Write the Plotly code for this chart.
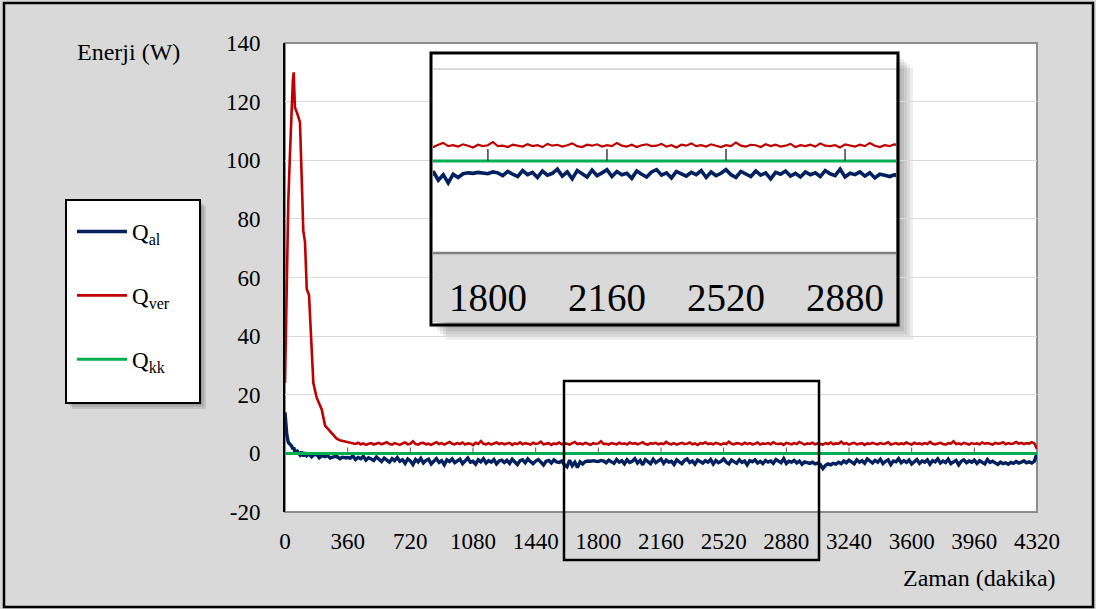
import plotly.graph_objects as go

# ---------------- data ----------------
time_early = [0, 5, 10, 19, 29, 38, 45, 50, 57, 70, 86, 96, 105, 115, 125, 138, 153, 163,
              182, 197, 211, 230, 245, 259, 278, 297, 315, 330, 345, 360]
q_ver_early = [24, 42, 58, 86, 103, 120, 127, 130, 118, 116, 113, 94, 76, 72, 56, 54, 34, 24,
               19, 17, 15, 9.5, 8.5, 7.5, 6, 5, 4.5, 4.3, 4.2, 4.0]
q_al_early = [14, 9, 6.5, 3.7, 3, 2.5, 1.5, 2, 0.5, 0.8, -0.5, 0.5, -1, 0.3, -0.8, -0.2, -1.2, -0.6,
              -0.3, -1.5, -0.8, -1.1, -0.7, -1.6, -1.2, -1.0, -1.8, -1.3, -1.5, -1.4]

time_rest = list(range(375, 4306, 15)) + [4320]
q_ver_rest = [
    3.8, 3.5, 3.2, 3.6, 3.1, 3.4, 2.9, 3.3, 3.5, 3.0, 3.2, 3.6, 3.1, 3.4, 3.8, 3.2, 3.0, 3.5, 3.3, 2.9,
    3.4, 3.7, 3.1, 3.3, 4.1, 3.2, 3.0, 3.5, 3.6, 3.1, 3.3, 2.9, 3.4, 3.8, 3.2, 3.5, 3.0, 3.4, 3.9, 3.3,
    3.1, 3.5, 3.2, 3.7, 3.0, 3.4, 3.3, 2.8, 3.6, 3.2, 4.2, 3.3, 3.1, 3.5, 3.0, 3.4, 3.7, 3.2, 3.5, 3.1,
    3.3, 3.6, 2.9, 3.4, 3.2, 3.8, 3.1, 3.5, 3.3, 3.0, 3.6, 3.2, 3.4, 4.0, 3.1, 3.3, 3.5, 2.9, 3.4, 3.2,
    3.7, 3.1, 3.4, 3.3, 3.0, 3.5, 3.9, 3.2, 3.4, 3.1, 3.6, 3.3, 2.9, 3.5, 3.2, 3.4, 4.1, 3.2, 3.3, 3.0,
    3.5, 3.3, 3.1, 3.6, 3.2, 3.4, 3.0, 3.7, 3.3, 3.5, 3.1, 3.4, 3.8, 3.2, 3.0, 3.5, 3.3, 3.6, 3.1, 3.4,
    3.2, 3.9, 3.3, 3.1, 3.5, 3.0, 3.4, 3.6, 3.2, 3.3, 3.7, 3.1, 3.4, 2.9, 3.5, 3.3, 3.8, 3.2, 3.4, 3.1,
    3.6, 3.3, 3.0, 3.4, 3.2, 4.0, 3.3, 3.1, 3.5, 3.4, 3.0, 3.6, 3.2, 3.5, 3.1, 3.3, 3.7, 3.0, 3.4, 3.2,
    3.5, 3.1, 3.8, 3.3, 3.2, 3.4, 2.9, 3.6, 3.3, 3.1, 3.5, 3.2, 3.9, 3.3, 3.0, 3.4, 3.2, 3.6, 3.1, 3.4,
    3.3, 3.0, 3.5, 3.2, 3.7, 3.1, 3.4, 3.3, 4.0, 3.2, 3.5, 3.0, 3.4, 3.6, 3.1, 3.3, 3.5, 2.9, 3.4, 3.2,
    3.6, 3.3, 3.1, 3.5, 3.2, 3.4, 3.8, 3.0, 3.3, 3.5, 3.1, 3.4, 3.2, 3.7, 3.3, 3.0, 3.6, 3.2, 3.4, 3.1,
    3.5, 3.2, 3.9, 3.3, 3.1, 3.4, 3.6, 3.2, 3.0, 3.5, 3.3, 4.1, 3.2, 3.4, 3.1, 3.6, 3.3, 3.0, 3.5, 3.2,
    3.4, 3.1, 3.7, 3.3, 3.5, 3.2, 3.0, 3.6, 3.3, 3.4, 3.8, 3.1, 3.5, 3.2, 3.4, 3.9, 3.3, 3.6, 3.2, 3.5,
    3.3, 3.8, 3.4, 1.5,
]
q_al_rest = [
    -1.6, -0.9, -2.1, -1.4, -1.8, -1.0, -2.3, -1.5, -1.9, -2.4, -1.2, -2.0, -2.8, -1.6, -2.2, -3.0, -1.8, -2.5, -1.4, -2.7,
    -2.2, -3.4, -1.9, -2.6, -3.8, -2.1, -2.9, -1.7, -3.3, -2.4, -2.0, -3.6, -2.7, -1.8, -3.1, -2.5, -3.9, -2.2, -2.8, -1.9,
    -3.2, -2.6, -2.0, -3.5, -2.4, -1.6, -3.0, -2.7, -3.7, -2.2, -2.9, -1.8, -3.3, -2.5, -3.0, -2.1, -3.6, -2.6, -2.3, -3.1,
    -2.4, -3.4, -2.0, -2.9, -3.8, -2.5, -2.2, -3.2, -1.9, -2.8, -3.5, -2.6, -2.1, -3.0, -4.0, -2.7, -2.4, -3.3, -2.2, -2.9,
    -3.1, -2.6, -3.9, -4.6, -2.3, -4.2, -3.0, -4.8, -2.9, -3.6, -2.8, -2.6, -2.7, -2.5, -2.6, -2.8, -2.4, -2.6, -3.2, -2.3,
    -2.9, -3.4, -2.1, -3.0, -2.5, -3.6, -2.2, -3.1, -2.7, -1.8, -3.3, -2.4, -3.9, -2.1, -2.8, -3.5, -2.0, -3.2, -2.6, -1.9,
    -3.4, -2.3, -3.0, -2.7, -3.8, -2.2, -2.9, -3.5, -2.4, -1.9, -3.1, -2.6, -3.7, -2.3, -2.8, -3.3, -2.5, -3.0, -2.1, -3.6,
    -2.4, -3.2, -2.7, -1.9, -3.0, -3.6, -2.3, -2.8, -3.4, -2.2, -3.1, -2.6, -3.9, -2.5, -2.9, -2.2, -3.3, -2.7, -3.5, -2.4,
    -3.0, -2.6, -3.4, -2.1, -2.8, -3.2, -1.8, -3.5, -2.7, -3.0, -2.4, -3.3, -2.6, -3.7, -2.9, -3.1, -3.4, -3.0, -3.6, -3.3,
    -3.8, -5.2, -4.1, -3.6, -3.9, -3.4, -3.7, -3.0, -3.5, -2.6, -3.2, -2.3, -2.9, -3.6, -2.2, -3.0, -2.5, -3.4, -1.9, -2.8,
    -3.3, -2.4, -3.0, -2.0, -3.5, -2.7, -2.2, -3.8, -2.6, -2.9, -1.8, -3.2, -2.5, -3.1, -2.3, -3.6, -2.8, -2.1, -3.4, -2.6,
    -3.0, -2.2, -3.7, -2.5, -2.9, -1.9, -3.3, -2.6, -3.1, -2.0, -3.5, -2.8, -2.4, -3.9, -2.7, -2.2, -3.2, -2.6, -3.0, -2.3,
    -3.4, -2.5, -2.9, -3.6, -2.1, -3.1, -2.7, -3.3, -3.8, -3.0, -3.5, -3.2, -3.7, -3.1, -3.4, -2.8, -3.3, -3.0, -2.6, -3.2,
    -2.9, -3.3, -2.7, 0.0,
]
time_kk = [0, 4320]
q_kk = [0, 0]

x_tick_vals = list(range(0, 4321, 360))
y_tick_vals = list(range(-20, 141, 20))
y_tick_text = [str(v) for v in y_tick_vals]
inset_tick_vals = [1800, 2160, 2520, 2880]
inset_x_range = [1634, 3034]
inset_y_range = [-35, 23]

n = min(len(time_rest), len(q_ver_rest), len(q_al_rest))
time_all = time_early + time_rest[:n]
q_ver_all = q_ver_early + q_ver_rest[:n]
q_al_all = q_al_early + q_al_rest[:n]

# ---------------- styling ----------------
FONT = "Times New Roman, Liberation Serif, Tinos, DejaVu Serif, serif"
C_AL, C_VER, C_KK = "#002060", "#c00000", "#00b050"
FIG_W, FIG_H = 1096, 609
L, T, PW, PH = 285, 43, 752, 469


def px(x):
    return (x - L) / PW


def py(y):
    return (T + PH - y) / PH


fig = go.Figure()

# main traces
fig.add_trace(go.Scatter(x=time_all, y=q_al_all, name="Q<sub>al</sub>", mode="lines",
                         line=dict(color=C_AL, width=3.4), legendgroup="a"))
fig.add_trace(go.Scatter(x=time_all, y=q_ver_all, name="Q<sub>ver</sub>", mode="lines",
                         line=dict(color=C_VER, width=2.6), legendgroup="b"))
fig.add_trace(go.Scatter(x=time_kk, y=q_kk, name="Q<sub>kk</sub>", mode="lines",
                         line=dict(color=C_KK, width=3), legendgroup="c"))

# inset traces (magnified view)
fig.add_trace(go.Scatter(x=time_kk, y=q_kk, mode="lines", showlegend=False,
                         line=dict(color=C_KK, width=3), xaxis="x2", yaxis="y2"))
fig.add_trace(go.Scatter(x=time_all, y=q_ver_all, mode="lines", showlegend=False,
                         line=dict(color=C_VER, width=2.2), xaxis="x2", yaxis="y2"))
fig.add_trace(go.Scatter(x=time_all, y=q_al_all, mode="lines", showlegend=False,
                         line=dict(color=C_AL, width=3.6), xaxis="x2", yaxis="y2"))

shapes = []
# outer black frame of the picture
shapes.append(dict(type="rect", xref="paper", yref="paper", x0=px(4), x1=px(1093), y0=py(607), y1=py(3),
                   line=dict(color="black", width=2.5), layer="above"))
# plot area border (gray)
shapes.append(dict(type="rect", xref="paper", yref="paper", x0=0, x1=1, y0=0, y1=1,
                   line=dict(color="#8c8c8c", width=2), layer="below"))
# legend shadow + box
for k in range(3):
    d = 2 + 2 * k
    shapes.append(dict(type="rect", xref="paper", yref="paper", x0=px(66 + d), x1=px(200 + d),
                       y0=py(403 + d), y1=py(200 + d), fillcolor="rgba(0,0,0,0.10)",
                       line=dict(width=0), layer="below"))
shapes.append(dict(type="rect", xref="paper", yref="paper", x0=px(66), x1=px(200), y0=py(403), y1=py(200),
                   fillcolor="white", line=dict(color="black", width=2), layer="below"))
# inset shadow
for k in range(5):
    d = 3 + 3 * k
    shapes.append(dict(type="rect", xref="paper", yref="paper", x0=px(431 + d), x1=px(898 + d),
                       y0=py(325 + d), y1=py(53 + d), fillcolor="rgba(0,0,0,0.07)",
                       line=dict(width=0), layer="below"))
# tick marks on the zero line (main)
for t in x_tick_vals[1:-1]:
    shapes.append(dict(type="line", xref="x", yref="y", x0=t, x1=t, y0=0, y1=2,
                       line=dict(color="#595959", width=1)))
# inset: gray axis band, bottom border, tick marks
shapes.append(dict(type="rect", xref="x2", yref="y2", x0=inset_x_range[0], x1=inset_x_range[1],
                   y0=inset_y_range[0], y1=-20, fillcolor="#d9d9d9", line=dict(width=0), layer="below"))
shapes.append(dict(type="line", xref="x2", yref="y2", x0=inset_x_range[0], x1=inset_x_range[1],
                   y0=-20, y1=-20, line=dict(color="#7f7f7f", width=2.5)))
for t in inset_tick_vals:
    shapes.append(dict(type="line", xref="x2", yref="y2", x0=t, x1=t, y0=0, y1=2.6,
                       line=dict(color="#404040", width=1.5)))
# inset frame
shapes.append(dict(type="rect", xref="paper", yref="paper", x0=px(431), x1=px(898), y0=py(325), y1=py(53),
                   line=dict(color="black", width=3), layer="above"))
# zoom rectangle on the main chart
shapes.append(dict(type="rect", xref="paper", yref="paper", x0=px(564), x1=px(819), y0=py(560), y1=py(381),
                   line=dict(color="black", width=2.5), layer="above"))

annotations = [
    dict(text="Enerji (W)", xref="paper", yref="paper", x=px(128), y=py(52), xanchor="center",
         yanchor="middle", showarrow=False, font=dict(family=FONT, size=24, color="black")),
    dict(text="Zaman (dakika)", xref="paper", yref="paper", x=px(1058), y=py(578), xanchor="right",
         yanchor="middle", showarrow=False, font=dict(family=FONT, size=24, color="black")),
]

fig.update_layout(
    width=FIG_W, height=FIG_H, autosize=False,
    margin=dict(l=L, r=FIG_W - L - PW, t=T, b=FIG_H - T - PH, pad=0),
    paper_bgcolor="#d9d9d9", plot_bgcolor="white",
    font=dict(family=FONT, size=23, color="black"),
    showlegend=True,
    legend=dict(x=px(72), y=py(210), xanchor="left", yanchor="top", bgcolor="rgba(0,0,0,0)",
                borderwidth=0, font=dict(family=FONT, size=23, color="black"),
                tracegroupgap=31, itemwidth=50),
    xaxis=dict(range=[0, 4320], tickvals=x_tick_vals, ticks="outside", ticklen=8,
               tickcolor="rgba(0,0,0,0)", showgrid=False, zeroline=False, showline=False,
               tickfont=dict(family=FONT, size=23, color="black")),
    yaxis=dict(range=[-20, 140], tickvals=y_tick_vals, ticktext=y_tick_text, ticks="outside", ticklen=18,
               tickcolor="rgba(0,0,0,0)", showgrid=True, gridcolor="#d9d9d9", gridwidth=1,
               zeroline=False, showline=True, linecolor="black", linewidth=2,
               tickfont=dict(family=FONT, size=23, color="black")),
    xaxis2=dict(domain=[px(433), px(896)], anchor="y2", range=inset_x_range, tickvals=inset_tick_vals,
                ticks="", ticklabelposition="inside", showgrid=False, zeroline=False, showline=False,
                tickfont=dict(family=FONT, size=39, color="black")),
    yaxis2=dict(domain=[py(322), py(55)], anchor="x2", range=inset_y_range, tickvals=[20],
                showticklabels=False, ticks="", showgrid=True, gridcolor="#d9d9d9", gridwidth=2,
                zeroline=False, showline=False),
    shapes=shapes,
    annotations=annotations,
)

fig.write_html("out.html")
